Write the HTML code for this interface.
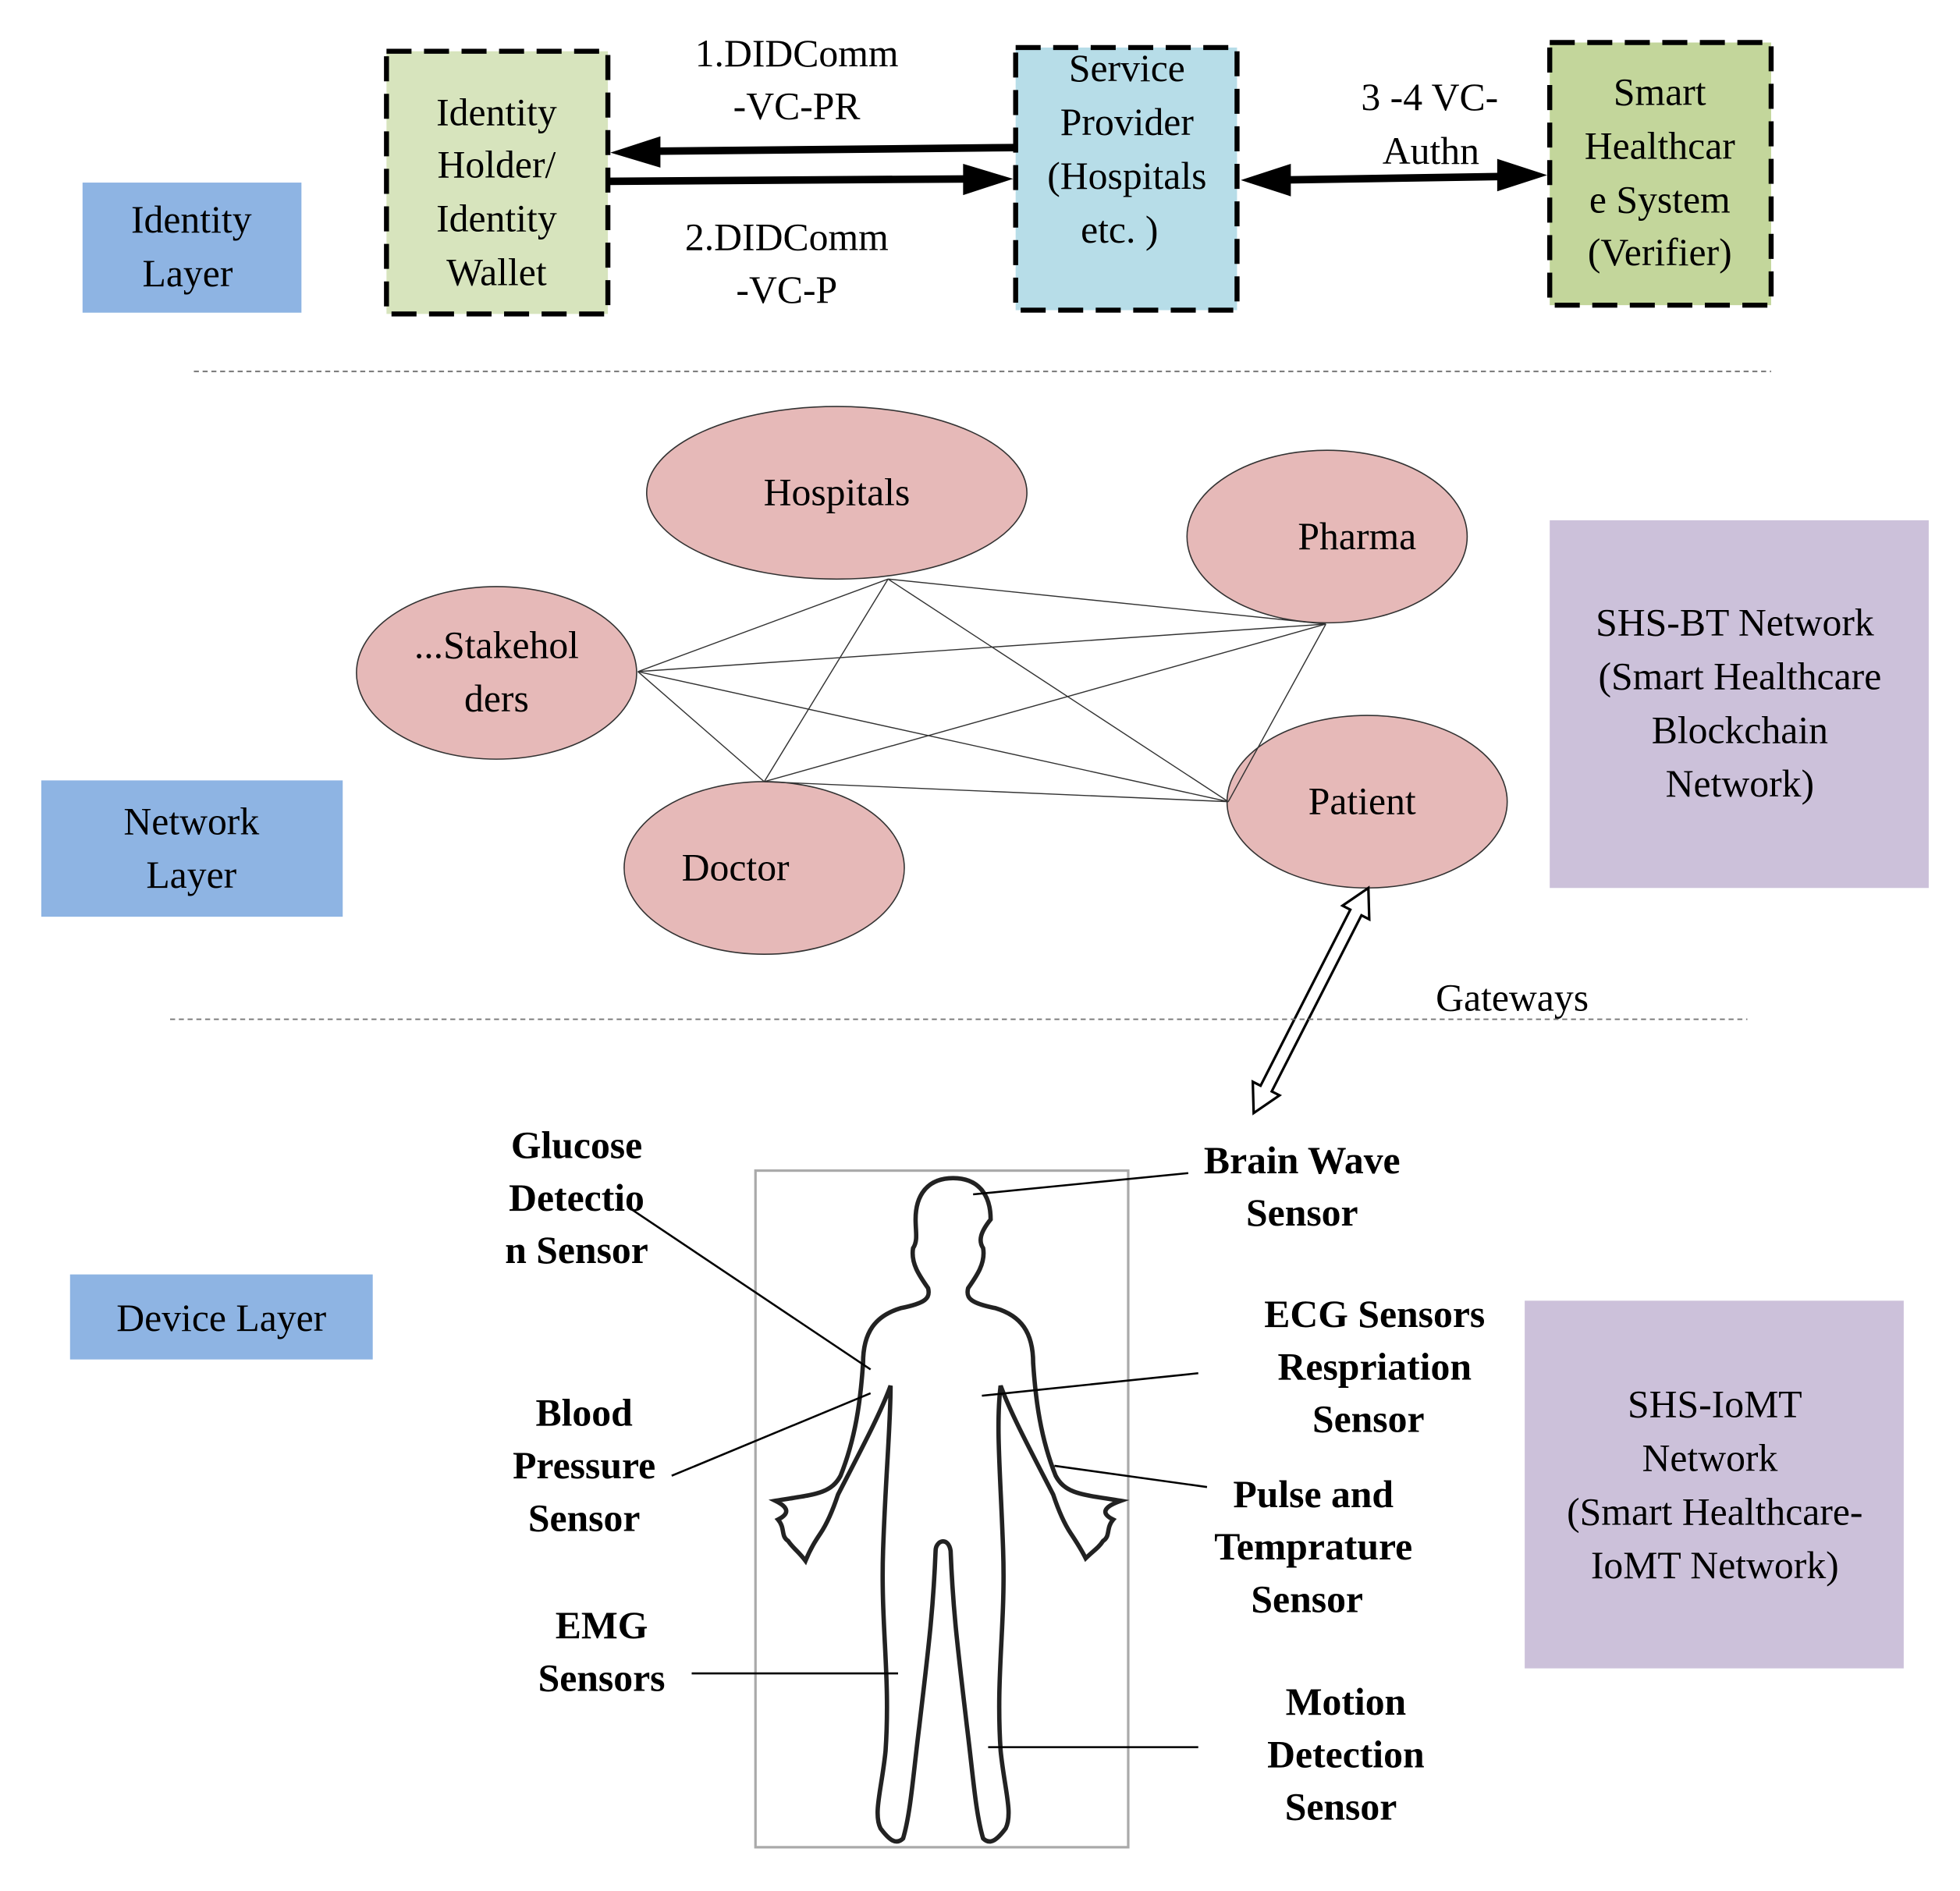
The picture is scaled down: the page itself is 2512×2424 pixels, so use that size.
<!DOCTYPE html>
<html><head><meta charset="utf-8"><style>
html,body{margin:0;padding:0;background:#fff}
svg{display:block}
text{font-family:"Liberation Serif",serif;font-size:31px;fill:#000}
.b{font-weight:bold}
</style></head><body>
<svg width="2512" height="2424" viewBox="0 0 1567 1512" preserveAspectRatio="none" xmlns="http://www.w3.org/2000/svg">
<g text-anchor="middle">
<rect x="66" y="146" width="175" height="104" fill="#8eb4e3"/>
<text x="153" y="186">Identity</text><text x="150" y="229">Layer</text>

<rect x="309" y="41" width="177" height="210" fill="#d7e4bd" stroke="#000" stroke-width="4" stroke-dasharray="20,10"/>
<text x="397" y="100">Identity</text><text x="397" y="142">Holder/</text><text x="397" y="185">Identity</text><text x="397" y="228">Wallet</text>

<rect x="812" y="38" width="177" height="210" fill="#b7dde8" stroke="#000" stroke-width="4" stroke-dasharray="20,10"/>
<text x="901" y="65">Service</text><text x="901" y="108">Provider</text><text x="901" y="151">(Hospitals</text><text x="895" y="194">etc.  )</text>

<rect x="1239" y="34" width="177" height="210" fill="#c3d69b" stroke="#000" stroke-width="4" stroke-dasharray="20,10"/>
<text x="1327" y="84">Smart</text><text x="1327" y="127">Healthcar</text><text x="1327" y="170">e System</text><text x="1327" y="212">(Verifier)</text>

<text x="637" y="53">1.DIDComm</text><text x="637" y="95">-VC-PR</text>
<text x="629" y="200">2.DIDComm</text><text x="629" y="242">-VC-P</text>
<text x="1143" y="88">3 -4 VC-</text><text x="1144" y="131">Authn</text>

<line x1="812" y1="118" x2="515" y2="121" stroke="#000" stroke-width="6"/>
<path d="M488,122 L528,109 L528,134 Z" fill="#000"/>
<line x1="486" y1="145" x2="782" y2="143" stroke="#000" stroke-width="6"/>
<path d="M810,143 L770,131 L770,156 Z" fill="#000"/>
<line x1="1020" y1="144" x2="1210" y2="141" stroke="#000" stroke-width="6"/>
<path d="M992,144 L1032,131 L1032,157 Z" fill="#000"/>
<path d="M1237,140 L1197,127 L1197,153 Z" fill="#000"/>

<line x1="155" y1="297" x2="1416" y2="297" stroke="#777" stroke-width="1.2" stroke-dasharray="4,3"/>

<g fill="#e6b9b8" stroke="#333" stroke-width="1">
<ellipse cx="669" cy="394" rx="152" ry="69"/>
<ellipse cx="1061" cy="429" rx="112" ry="69"/>
<ellipse cx="397" cy="538" rx="112" ry="69"/>
<ellipse cx="611" cy="694" rx="112" ry="69"/>
<ellipse cx="1093" cy="641" rx="112" ry="69"/>
</g>
<g stroke="#333" stroke-width="0.9">
<line x1="710" y1="463" x2="510" y2="537"/><line x1="710" y1="463" x2="611" y2="625"/>
<line x1="710" y1="463" x2="982" y2="641"/><line x1="710" y1="463" x2="1060" y2="499"/>
<line x1="510" y1="537" x2="1060" y2="499"/><line x1="510" y1="537" x2="611" y2="625"/>
<line x1="510" y1="537" x2="982" y2="641"/><line x1="611" y1="625" x2="1060" y2="499"/>
<line x1="611" y1="625" x2="982" y2="641"/><line x1="1060" y1="499" x2="982" y2="641"/>
</g>
<text x="669" y="404">Hospitals</text>
<text x="1085" y="439">Pharma</text>
<text x="397" y="526">...Stakehol</text><text x="397" y="569">ders</text>
<text x="588" y="704">Doctor</text>
<text x="1089" y="651">Patient</text>

<rect x="33" y="624" width="241" height="109" fill="#8eb4e3"/>
<text x="153" y="667">Network</text><text x="153" y="710">Layer</text>

<rect x="1239" y="416" width="303" height="294" fill="#ccc1da"/>
<text x="1387" y="508">SHS-BT Network</text><text x="1391" y="551">(Smart Healthcare</text><text x="1391" y="594">Blockchain</text><text x="1391" y="637">Network)</text>

<g transform="translate(1094,710) rotate(117)">
<path d="M0,0 L22,-12 L22,-5 L180,-5 L180,-12 L202,0 L180,12 L180,5 L22,5 L22,12 Z" fill="#fff" stroke="#000" stroke-width="2"/>
</g>
<text x="1209" y="808">Gateways</text>

<line x1="136" y1="815" x2="1397" y2="815" stroke="#777" stroke-width="1.2" stroke-dasharray="4,3"/>

<rect x="56" y="1019" width="242" height="68" fill="#8eb4e3"/>
<text x="177" y="1064">Device Layer</text>

<rect x="1219" y="1040" width="303" height="294" fill="#ccc1da"/>
<text x="1371" y="1133">SHS-IoMT</text><text x="1367" y="1176">Network</text><text x="1371" y="1219">(Smart Healthcare-</text><text x="1371" y="1262">IoMT Network)</text>

<rect x="604" y="936" width="298" height="541" fill="none" stroke="#aaa" stroke-width="2"/>
<path d="M762,942 C742,942 732,955 732,975 C732,985 734,992 730,998 C728,1010 735,1020 742,1030 C744,1038 740,1042 720,1046 C700,1052 690,1065 690,1090 C688,1120 684,1150 672,1180 C664,1195 650,1195 620,1200 C630,1205 632,1210 622,1215 C628,1222 624,1228 630,1232 C634,1238 638,1240 644,1248 C648,1238 652,1232 656,1226 C660,1220 665,1210 670,1195 C688,1160 704,1130 712,1108 C712,1140 708,1180 706,1240 C704,1300 712,1340 708,1400 C705,1430 698,1450 704,1462 C710,1470 716,1476 722,1470 C728,1450 730,1420 735,1380 C742,1320 746,1290 748,1240 C748,1232 758,1228 760,1240 C762,1290 766,1320 773,1380 C778,1420 780,1450 786,1470 C792,1476 798,1470 804,1462 C810,1450 803,1430 800,1400 C796,1340 804,1300 802,1240 C800,1180 796,1140 800,1108 C808,1130 824,1160 842,1195 C847,1210 852,1220 856,1226 C860,1232 864,1238 868,1246 C874,1240 878,1238 882,1232 C888,1228 884,1222 890,1215 C880,1210 882,1205 896,1200 C866,1195 852,1195 844,1180 C832,1150 828,1120 826,1090 C826,1065 816,1052 796,1046 C776,1042 772,1038 774,1030 C781,1020 788,1010 786,998 C782,992 784,985 792,975 C792,955 782,942 762,942 Z" fill="none" stroke="#222" stroke-width="3.5"/>

<text class="b" x="461" y="926">Glucose</text><text class="b" x="461" y="968">Detectio</text><text class="b" x="461" y="1010">n Sensor</text>
<text class="b" x="1041" y="938">Brain Wave</text><text class="b" x="1041" y="980">Sensor</text>
<text class="b" x="1099" y="1061">ECG Sensors</text><text class="b" x="1099" y="1103">Respriation</text><text class="b" x="1094" y="1145">Sensor</text>
<text class="b" x="467" y="1140">Blood</text><text class="b" x="467" y="1182">Pressure</text><text class="b" x="467" y="1224">Sensor</text>
<text class="b" x="1050" y="1205">Pulse and</text><text class="b" x="1050" y="1247">Temprature</text><text class="b" x="1045" y="1289">Sensor</text>
<text class="b" x="481" y="1310">EMG</text><text class="b" x="481" y="1352">Sensors</text>
<text class="b" x="1076" y="1371">Motion</text><text class="b" x="1076" y="1413">Detection</text><text class="b" x="1072" y="1455">Sensor</text>
<g stroke="#000" stroke-width="1.6">
<line x1="505" y1="967" x2="696" y2="1095"/>
<line x1="950" y1="938" x2="778" y2="955"/>
<line x1="958" y1="1098" x2="785" y2="1116"/>
<line x1="537" y1="1180" x2="696" y2="1114"/>
<line x1="965" y1="1189" x2="843" y2="1172"/>
<line x1="553" y1="1338" x2="718" y2="1338"/>
<line x1="958" y1="1397" x2="790" y2="1397"/>
</g>
</g>
</svg>
</body></html>
